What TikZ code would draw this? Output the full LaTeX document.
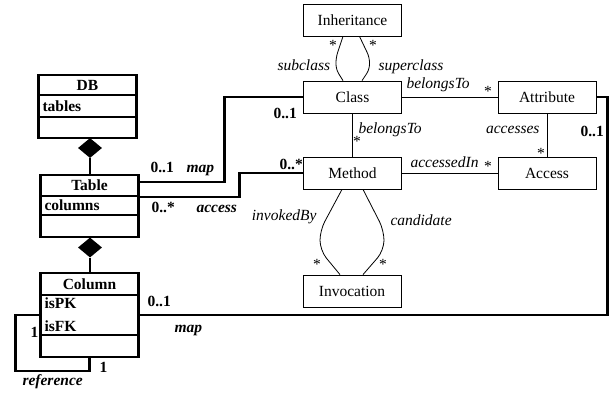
\documentclass[tikz,border=0pt]{standalone}
\usepackage{fontspec}
\setmainfont{Liberation Serif}
\usetikzlibrary{positioning,shapes.geometric}

\begin{document}
\begin{tikzpicture}[x=1pt,y=-1pt,
    every node/.style={font=\fontsize{15.5}{18}\selectfont},
    cls/.style={draw,line width=.8pt,minimum width=98,minimum height=32,inner sep=0},
    umlhead/.style={draw,line width=2.6pt,minimum width=98,inner sep=0,outer sep=0,
      font=\fontsize{15.5}{18}\selectfont\bfseries},
    umlattr/.style={umlhead,text width=90pt,inner xsep=4pt,align=left},
    comp/.style={diamond,fill,minimum width=24,minimum height=20,inner sep=0},
    fat/.style={line width=2.6pt},
    thin/.style={line width=.8pt},
    role/.style={anchor=base west,font=\fontsize{15.5}{18}\selectfont\itshape},
    mult/.style={anchor=base west,font=\fontsize{15.5}{18}\selectfont\bfseries},
    boldrole/.style={anchor=base west,font=\fontsize{15.5}{18}\selectfont\bfseries\itshape},
    star/.style={inner sep=0}]
  \useasboundingbox (0,0) rectangle (613,392);

  \node[cls] (inh) at (352.5,20) {Inheritance};
  \node[cls] (class) at (352.5,97) {Class};
  \node[cls] (method) at (352.5,173) {Method};
  \node[cls] (invoc) at (352,291) {Invocation};
  \node[cls] (attr) at (547,97) {Attribute};
  \node[cls] (access) at (547,173) {Access};

  \node[umlhead,minimum height=20] (db) at (87.5,85) {DB};
  \node[umlattr,minimum height=22,below=0pt of db] (dbattr) {tables};
  \node[umlattr,minimum height=21,below=0pt of dbattr] (dbops) {};

  \node[umlhead,minimum height=21] (table) at (89.5,185.5) {Table};
  \node[umlattr,minimum height=19,below=0pt of table] (tableattr) {columns};
  \node[umlattr,minimum height=22,below=0pt of tableattr] (tableops) {};

  \node[umlhead,minimum height=22] (column) at (89.5,284) {Column};
  \node[umlattr,minimum height=40,below=0pt of column,
    font=\fontsize{15.5}{23}\selectfont\bfseries] (colattr) {isPK\\isFK};
  \node[umlattr,minimum height=22,below=0pt of colattr] (colops) {};

  \node[comp] (dgdb) at (90,148) {};
  \node[comp] (dgtable) at (90,247.5) {};
  \draw[fat] (dgdb.south) -- (dgdb.south |- table.north);
  \draw[fat] (dgtable.south) -- (dgtable.south |- column.north);

  \draw[fat] ([yshift=3.5pt]table.east) -- ++(86,0) |- (class.west);
  \draw[fat] ([yshift=8.5pt]tableattr.east) -- ++(101,0) |- (method.west);
  \draw[fat] (colattr.east) -- ++(469,0) |- (attr.east);
  \draw[fat] (colattr.west) -- ++(-25,0) -- ++(0,56) -| (colops.south);

  \draw[thin] (class) -- (method);
  \draw[thin] (class) -- (attr);
  \draw[thin] (attr) -- (access);
  \draw[thin] (method) -- (access);
  \draw[thin,rounded corners=5] ([xshift=-9.5pt]inh.south) -- ++(-7,21) -- ++(0,12)
    -- ([xshift=-9.5pt]class.north);
  \draw[thin,rounded corners=5] ([xshift=7pt]inh.south) -- ++(10,21) -- ++(0,12)
    -- ([xshift=9.5pt]class.north);
  \draw[thin,rounded corners=10] ([xshift=-10.5pt]method.south) -- ++(-22,41) -- ++(0,20)
    -- ([xshift=-12pt]invoc.north);
  \draw[thin,rounded corners=10] ([xshift=10.5pt]method.south) -- ++(21,41) -- ++(0,20)
    -- ([xshift=11pt]invoc.north);

  \node[role] (lsub) at (274,70) {subclass};
  \node[role] (lsuper) at (375,70) {superclass};
  \node[role] (lbelcm) at (355,133) {belongsTo};
  \node[role] (lbelca) at (403,88) {belongsTo};
  \node[role,anchor=base east] (lacc) at (543,133) {accesses};
  \node[role] (laccin) at (407,167) {accessedIn};
  \node[role,anchor=base east] (linv) at (320,220) {invokedBy};
  \node[role] (lcand) at (387,225) {candidate};

  \node[star] (s1) at (333,45) {*};
  \node[star] (s2) at (373,45) {*};
  \node[star] (s3) at (357,141) {*};
  \node[star] (s4) at (488,91) {*};
  \node[star] (s5) at (541,153) {*};
  \node[star] (s6) at (488,166) {*};
  \node[star] (s7) at (317,264) {*};
  \node[star] (s8) at (383,264) {*};

  \node[mult] (mtab) at (147,172) {0..1};
  \node[boldrole] (rtabmap) at (183,172) {map};
  \node[mult] (mtabacc) at (148,212) {0..*};
  \node[boldrole] (rtabacc) at (193,212) {access};
  \node[mult] (mclass) at (270,118) {0..1};
  \node[mult] (mmeth) at (276,169) {0..*};
  \node[mult] (mattr) at (577,136) {0..1};
  \node[mult] (mcol) at (144,306) {0..1};
  \node[boldrole] (rcolmap) at (171,332) {map};
  \node[mult] (mref1) at (27,337) {1};
  \node[mult] (mref2) at (96,372) {1};
  \node[boldrole] (rref) at (19,385) {reference};
\end{tikzpicture}
\end{document}
